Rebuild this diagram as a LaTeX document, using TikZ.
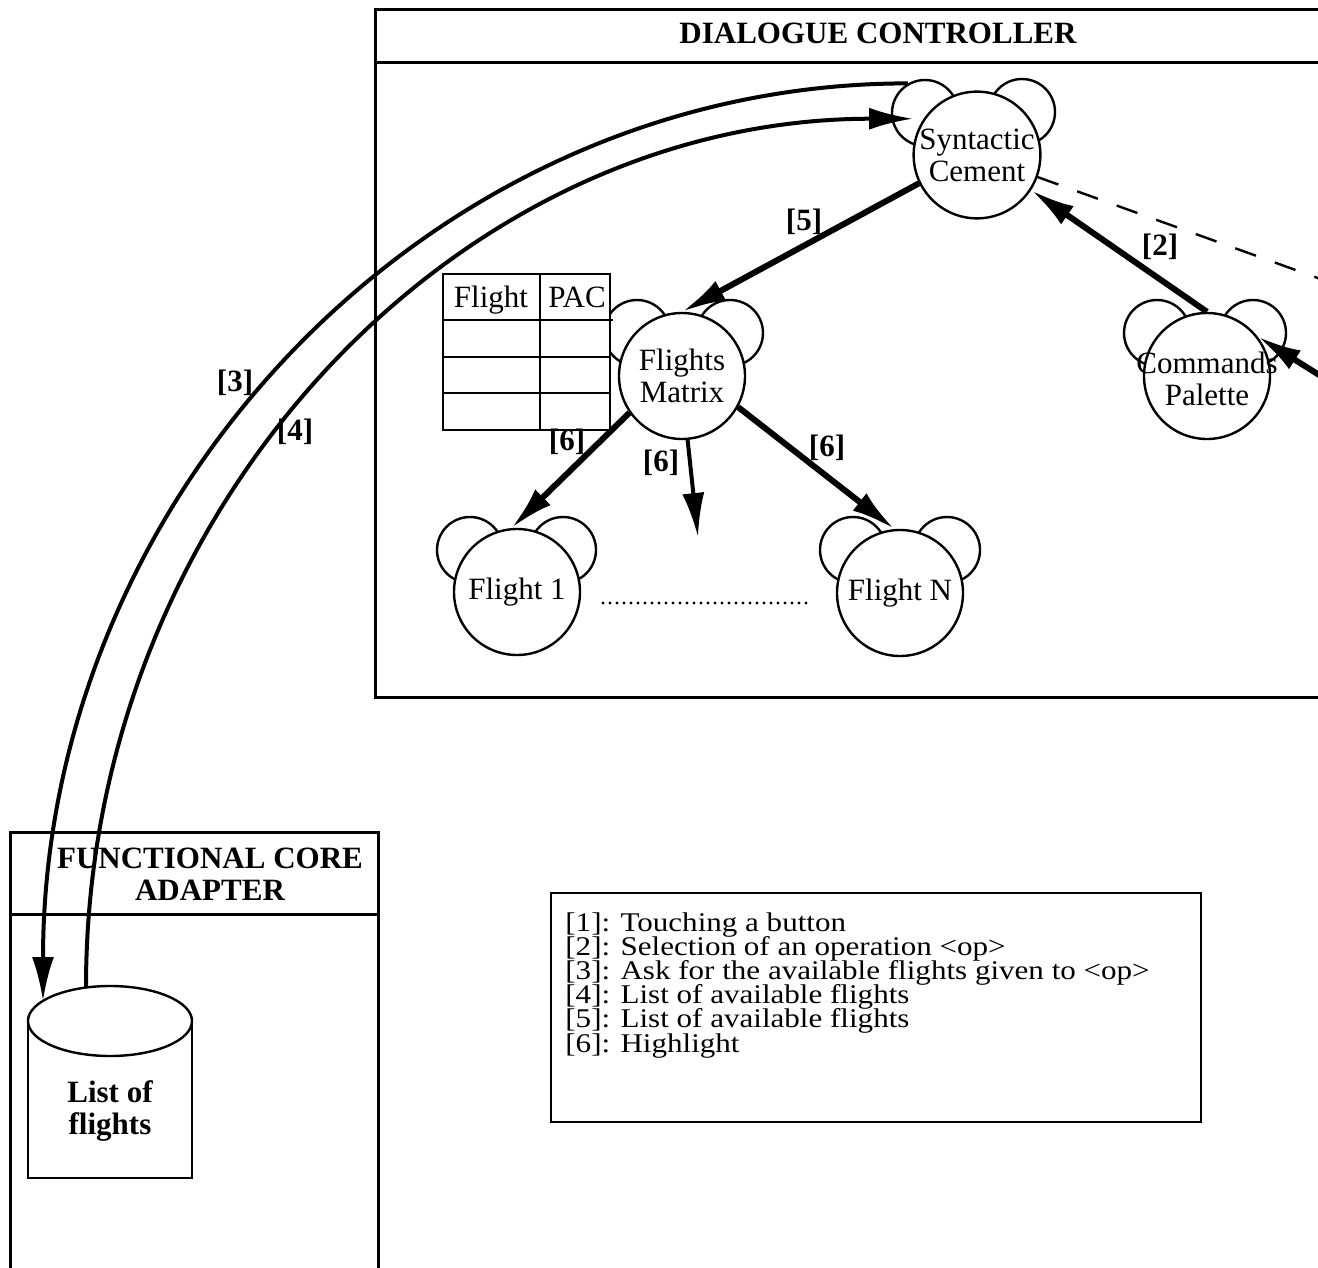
\documentclass[tikz,border=0pt]{standalone}
\usepackage{fontspec}
\setmainfont{Liberation Serif}
\newfontfamily\keyfamily{Liberation Serif}[FakeStretch=1.15]
\usepackage{tikz}
\usetikzlibrary{arrows.meta}
\newcommand{\keyfont}{\keyfamily\fontsize{13.5pt}{12.1pt}\selectfont\lineskiplimit=-100pt\relax}

\begin{document}
\begin{tikzpicture}[x=0.5pt,y=-0.5pt,
	font=\fontsize{15.5pt}{16pt}\selectfont,
	agent/.style={shape=circle,draw=black,line width=1.2pt,fill=white,minimum size=63pt,inner sep=0pt,align=center},
	ear/.style={shape=circle,draw=black,line width=1.2pt,fill=white,minimum size=33pt,inner sep=0pt},
	title/.style={font=\fontsize{15.5pt}{16pt}\selectfont\bfseries,align=center,inner sep=0pt},
	tag/.style={font=\fontsize{15.5pt}{16pt}\selectfont\bfseries,inner sep=0pt},
	flow/.style={line width=3pt,-{Latex[length=22pt,width=11pt]}},
	call/.style={line width=2pt,-{Latex[length=22pt,width=11pt]}},
	frame/.style={line width=1.5pt},
	thin/.style={line width=1.2pt}]

	\useasboundingbox (0,0) rectangle (1318,1268);
	\clip (0,0) rectangle (1318,1268);

	\draw[frame] (1340,10) -- (375,10) -- (375,697) -- (1340,697);
	\draw[frame] (375,63) -- (1340,63);
	\node[title] (dc) at (878,33) {DIALOGUE CONTROLLER};

	\draw[frame] (10,1290) -- (10,832) -- (378,832) -- (378,1290);
	\draw[frame] (10,914) -- (378,914);
	\node[title] (fca) at (210,874) {FUNCTIONAL CORE\\ADAPTER};

	\node[ear] (scl) at (925,113) {};
	\node[ear] (scr) at (1022,112) {};
	\node[agent] (sc) at (977,155) {Syntactic\\Cement};

	\node[ear] (fml) at (637,333) {};
	\node[ear] (fmr) at (730,333) {};
	\node[agent] (fm) at (682,376) {Flights\\Matrix};

	\node[ear] (cpl) at (1157,333) {};
	\node[ear] (cpr) at (1253,333) {};
	\node[agent] (cp) at (1207,376) {};
	\node[align=center,inner sep=0pt] (cptext) at (1207,379) {Commands\\Palette};

	\node[ear] (f1l) at (470,550) {};
	\node[ear] (f1r) at (563,550) {};
	\node[agent] (f1) at (517,592) {Flight 1};

	\node[ear] (fnl) at (853,550) {};
	\node[ear] (fnr) at (947,550) {};
	\node[agent] (fn) at (900,593) {Flight N};

	\draw[thin,fill=white] (443,274) rectangle (610,430);
	\draw[thin] (540,274) -- (540,430);
	\draw[thin] (443,320) -- (613,320);
	\draw[thin] (443,357) -- (610,357);
	\draw[thin] (443,393) -- (610,393);
	\node[anchor=base,inner sep=0pt] (hflight) at (491,307) {Flight};
	\node[anchor=base,inner sep=0pt] (hpac) at (577,307) {PAC};

	\draw[thin] (28,1021) -- (28,1178) -- (192,1178) -- (192,1021);
	\draw[thin,fill=white] (110,1021) ellipse (41pt and 17.5pt);
	\node[title] (lof) at (110,1111) {List of\\flights};

	\coordinate (top3) at (43,1001);
	\coordinate (top4) at (86,987);
	\coordinate (dashend) at (1340,286);
	\coordinate (cpin) at (1340,388);
	\coordinate (open) at (698,537);

	\draw[call] (scl.120) .. controls +(-478,0) and +(0,-506) .. (top3);
	\draw[call] (top4) .. controls +(0,-479) and +(-457,0) .. ([xshift=-4pt,yshift=2pt]sc.150);

	\draw[flow] (sc.206) -- (fm.north);
	\draw[flow] (cp.north) -- (sc.-33);
	\draw[thin,dash pattern=on 11pt off 10pt] (sc.-20) -- (dashend);
	\draw[flow] (cpin) -- (cp.38);
	\draw[flow] (fm.215) -- (f1.95);
	\draw[call] (fm.-85) -- (open);
	\draw[flow] (fm.-29) -- (fn.95);
	\draw[line width=1.6pt,line cap=round,dash pattern=on 0pt off 3.5pt] (603,603) -- (813,603);

	\node[tag] (l5) at (804,222) {[5]};
	\node[tag] (l2) at (1160,247) {[2]};
	\node[tag] (l6a) at (567,442) {[6]};
	\node[tag] (l6b) at (661,463) {[6]};
	\node[tag] (l6c) at (827,448) {[6]};
	\node[tag] (l3) at (235,383) {[3]};
	\node[tag] (l4) at (295,432) {[4]};

	\draw[thin] (551,893) rectangle (1201,1122);
	\node[anchor=north west,inner sep=0pt,align=left,font=\keyfont] (key) at (565,912) {{[1]}: Touching a button\\{[2]}: Selection of an operation <op>\\{[3]}: Ask for the available flights given to <op>\\{[4]}: List of available flights\\{[5]}: List of available flights\\{[6]}: Highlight};
\end{tikzpicture}
\end{document}
